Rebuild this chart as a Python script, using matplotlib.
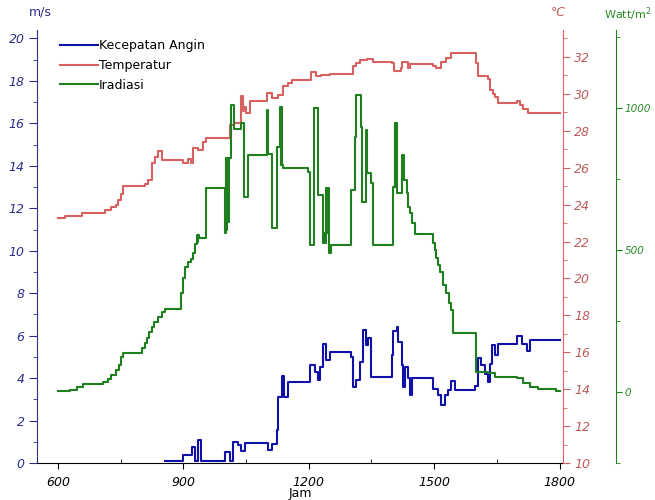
import matplotlib
matplotlib.use('Agg')
import matplotlib.pyplot as plt
from matplotlib.ticker import MultipleLocator, FixedLocator

# time axis is hours written as HHMM-ish numbers (600 = 06:00)
wind_t = [856, 900, 920, 928, 936, 942, 999, 1011, 1019, 1031, 1039, 1047, 1103, 1111,
          1123, 1127, 1135, 1140, 1151, 1202, 1214, 1222, 1228, 1234, 1242, 1250, 1302,
          1306, 1314, 1322, 1330, 1336, 1342, 1350, 1398, 1402, 1410, 1414, 1422, 1425,
          1430, 1437, 1441, 1448, 1497, 1509, 1517, 1525, 1533, 1541, 1549, 1597, 1605,
          1613, 1621, 1629, 1633, 1637, 1645, 1653, 1697, 1709, 1721, 1728, 1800]
wind_v = [0.1, 0.4, 0.75, 0.1, 1.1, 0.1, 0.5, 0.1, 1.0, 0.85, 0.55, 0.95, 0.6, 0.9,
          1.55, 3.1, 4.1, 3.1, 3.8, 4.6, 4.3, 3.9, 4.5, 5.6, 4.85, 5.25, 5.0,
          3.6, 3.9, 4.75, 6.25, 5.55, 5.9, 4.05, 5.1, 6.2, 6.4, 5.7, 4.6, 3.6,
          4.5, 4.0, 3.2, 4.0, 3.5, 3.2, 2.75, 3.2, 3.45, 3.85, 3.45, 3.65, 4.95,
          4.6, 4.2, 3.8, 4.65, 5.55, 5.1, 5.6, 6.0, 5.6, 5.3, 5.8, 5.8]

temp_t = [600, 617, 657, 712, 728, 740, 744, 750, 756, 808, 816, 824, 826, 832, 840,
          848, 900, 912, 918, 923, 935, 947, 955, 1011, 1020, 1037, 1042, 1046, 1050,
          1059, 1099, 1111, 1127, 1139, 1151, 1159, 1206, 1218, 1230, 1250, 1306, 1312,
          1322, 1340, 1354, 1400, 1404, 1420, 1424, 1437, 1441, 1497, 1505, 1517, 1529,
          1541, 1597, 1601, 1605, 1629, 1633, 1641, 1645, 1653, 1697, 1705, 1713, 1725,
          1800]
temp_v = [23.3, 23.4, 23.55, 23.7, 23.85, 24.0, 24.25, 24.6, 25.0, 25.1, 25.35, 25.7,
          26.25, 26.6, 26.9, 26.4, 26.25, 26.45, 26.25, 27.05, 26.95, 27.4, 27.6, 28.3,
          28.4, 29.9, 29.05, 29.3, 28.95, 29.6, 30.05, 29.8, 29.95, 30.4, 30.6, 30.75,
          31.2, 30.95, 31.0, 31.05, 31.5, 31.65, 31.85, 31.9, 31.7, 31.65, 31.25, 31.4,
          31.75, 31.4, 31.6, 31.5, 31.4, 31.75, 31.95, 32.2, 32.2, 31.65, 30.95, 30.8,
          30.2, 30.0, 29.85, 29.5, 29.6, 29.4, 29.2, 28.95, 28.95]

irr_t = [600, 629, 645, 660, 708, 720, 728, 740, 746, 752, 756, 800, 808, 812, 818,
         824, 830, 840, 848, 856, 894, 900, 905, 912, 918, 924, 928, 932, 934, 936,
         938, 955, 999, 1001, 1003, 1005, 1007, 1009, 1013, 1015, 1021, 1039, 1045,
         1055, 1099, 1100, 1101, 1102, 1113, 1124, 1132, 1133, 1134, 1135, 1138, 1198,
         1202, 1212, 1222, 1233, 1236, 1238, 1242, 1244, 1246, 1248, 1249, 1252, 1302,
         1310, 1312, 1324, 1328, 1336, 1337, 1338, 1340, 1348, 1354, 1402, 1406, 1407,
         1408, 1410, 1424, 1425, 1426, 1428, 1434, 1438, 1443, 1448, 1453, 1497, 1501,
         1505, 1509, 1515, 1521, 1529, 1535, 1541, 1545, 1599, 1629, 1645, 1697, 1713,
         1728, 1748, 1792, 1800]
irr_v = [3, 7, 19, 28, 36, 45, 60, 77, 95, 124, 138, 154, 171, 189, 212,
         230, 248, 265, 283, 291, 350, 400, 440, 459, 470, 488, 520, 553, 530, 553,
         541, 717, 559, 823, 570, 823, 600, 823, 934, 1011, 928, 946, 688,
         834, 993, 838, 993, 838, 576, 864, 1005, 800, 1005, 799, 788, 776,
         518, 999, 694, 524, 559, 524, 717, 559, 717, 559, 488, 518, 711,
         899, 1046, 934, 670, 922, 770, 922, 770, 735, 518, 723, 946, 723,
         946, 700, 834, 746, 834, 746, 700, 650, 629, 594, 556, 524, 500,
         471, 447, 424, 377, 347, 312, 289, 209, 72, 66, 54, 48, 33,
         16, 10, 5, 2]

blue = '#1010a8'
navy = '#2e2e8c'
red = '#d86060'
red_txt = '#c05a5a'
green = '#1f7f1f'
green_txt = '#2a8a2a'

fig = plt.figure(figsize=(6.55, 5.0), dpi=100)
ax = fig.add_axes([37 / 655, 37 / 500, 526 / 655, 433 / 500])
ax_t = ax.twinx()
ax_i = ax.twinx()

l1, = ax.plot(wind_t, wind_v, drawstyle='steps-post', color=blue, lw=1.5,
              label='Kecepatan Angin')
l2, = ax_t.plot(temp_t, temp_v, drawstyle='steps-post', color=red, lw=1.5,
                label='Temperatur')
l3, = ax_i.plot(irr_t, irr_v, drawstyle='steps-post', color=green, lw=1.5,
                label='Iradiasi')

ax.set_xlim(550, 1808)
ax.set_ylim(0, 20.4)
ax_t.set_ylim(10, 33.46)
ax_i.set_ylim(-250, 1275)

# main axis
for s in ['top', 'right']:
    ax.spines[s].set_visible(False)
ax.spines['left'].set_color(navy)
ax.spines['bottom'].set_color('black')
ax.xaxis.set_major_locator(MultipleLocator(300))
ax.xaxis.set_minor_locator(MultipleLocator(150))
ax.yaxis.set_major_locator(MultipleLocator(2))
ax.yaxis.set_minor_locator(MultipleLocator(1))
ax.tick_params(axis='x', which='major', direction='out', length=4, pad=5)
ax.tick_params(axis='x', which='minor', direction='in', length=3)
ax.tick_params(axis='y', which='major', direction='out', length=6, color=navy,
               labelcolor=navy, pad=3)
ax.tick_params(axis='y', which='minor', direction='out', length=3, color=navy)
for lab in ax.get_xticklabels() + ax.get_yticklabels():
    lab.set_fontstyle('italic')
    lab.set_fontsize(9)
ax.set_xlabel('Jam', fontsize=9, labelpad=-1)

# temperature axis
for s in ['top', 'left', 'bottom']:
    ax_t.spines[s].set_visible(False)
ax_t.spines['right'].set_color(red)
ax_t.yaxis.set_major_locator(MultipleLocator(2))
ax_t.yaxis.set_minor_locator(MultipleLocator(1))
ax_t.tick_params(axis='y', which='major', direction='out', length=5, color=red,
                 labelcolor=red_txt, pad=3)
ax_t.tick_params(axis='y', which='minor', direction='out', length=3, color=red)
for lab in ax_t.get_yticklabels():
    lab.set_fontstyle('italic')
    lab.set_fontsize(9)

# irradiance axis
for s in ['top', 'left', 'bottom']:
    ax_i.spines[s].set_visible(False)
ax_i.spines['right'].set_position(('axes', 1.101))
ax_i.spines['right'].set_color(green)
ax_i.yaxis.set_major_locator(FixedLocator([0, 500, 1000]))
ax_i.yaxis.set_minor_locator(FixedLocator([-250, 250, 750, 1250]))
ax_i.tick_params(axis='y', which='major', direction='out', length=4, color=green,
                 labelcolor=green_txt, pad=2)
ax_i.tick_params(axis='y', which='minor', direction='out', length=3, color=green)
for lab in ax_i.get_yticklabels():
    lab.set_fontstyle('italic')
    lab.set_fontsize(7.5)

fig.text(40 / 655, 1 - 12 / 500, 'm/s', color=navy, ha='center', va='center',
         fontsize=9)
fig.text(558 / 655, 1 - 13 / 500, '°C', color=red_txt, ha='center', va='center',
         fontsize=9, style='italic')
fig.text(628 / 655, 1 - 14 / 500, 'Watt/m$^2$', color=green_txt, ha='center',
         va='center', fontsize=8)

ax_i.legend(handles=[l1, l2, l3], loc='upper left',
            bbox_to_anchor=(60 / 655, 1 - 39 / 500), bbox_transform=fig.transFigure,
            frameon=False, fontsize=9, handlelength=3.0, handletextpad=0.1,
            labelspacing=0.55, borderpad=0, borderaxespad=0)

fig.savefig('out.png', dpi=100)
